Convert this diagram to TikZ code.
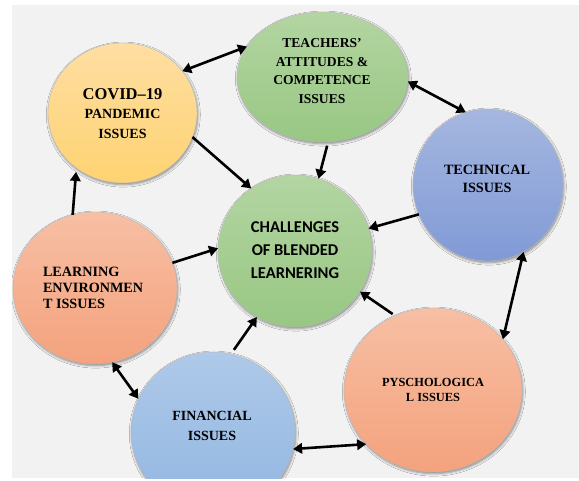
\documentclass[tikz,border=0pt]{standalone}
\usepackage{fontspec}
\setmainfont{Liberation Serif}
\newfontfamily\calibri{Carlito}
\usetikzlibrary{shapes.geometric,arrows.meta,shadows.blur}

\definecolor{panelgrey}{HTML}{F2F2F2}
\definecolor{goldtop}{HTML}{FEDEA2}
\definecolor{goldbot}{HTML}{FED372}
\definecolor{greentop}{HTML}{B3D5A2}
\definecolor{greenbot}{HTML}{98C783}
\definecolor{bluetop}{HTML}{A5B7E0}
\definecolor{bluebot}{HTML}{819AD6}
\definecolor{skytop}{HTML}{AEC9E9}
\definecolor{skybot}{HTML}{92B6E1}
\definecolor{salmontop}{HTML}{F7BFA4}
\definecolor{salmonbot}{HTML}{F4A27D}

\tikzset{
  bubble/.style={ellipse, inner sep=0pt, outer sep=0pt,
    draw=gray!55, line width=0.4pt,
    blur shadow={shadow xshift=0.8pt, shadow yshift=-1.6pt,
      shadow blur radius=2.5pt, shadow opacity=45}},
  gold/.style={top color=goldtop, bottom color=goldbot},
  leaf/.style={top color=greentop, bottom color=greenbot},
  steel/.style={top color=bluetop, bottom color=bluebot},
  sky/.style={top color=skytop, bottom color=skybot},
  salmon/.style={top color=salmontop, bottom color=salmonbot},
  caption/.style={inner sep=0pt, outer sep=0pt, align=center, font=\bfseries},
  tip/.tip={Triangle[length=9pt,width=10.5pt]},
  oneway/.style={line width=2.6pt, -tip},
  twoway/.style={line width=2.6pt, tip-tip},
}

\begin{document}
\begin{tikzpicture}[x=1pt,y=-1pt]
  \useasboundingbox (0,0) rectangle (579,481);
  \fill[panelgrey] (12,5) rectangle (579,478);

  \begin{scope}
    \clip (12,5) rectangle (579,478);
    % the seven bubbles
    \node[bubble, gold,   minimum width=149pt, minimum height=140pt] (covid)  at (122.5,113) {};
    \node[bubble, leaf,   minimum width=171pt, minimum height=130pt] (teach)  at (322.5,77)  {};
    \node[bubble, steel,  minimum width=150pt, minimum height=152pt] (tech)   at (488,185)   {};
    \node[bubble, leaf,   minimum width=154pt, minimum height=152pt] (hub)    at (295,251)   {};
    \node[bubble, salmon, minimum width=164pt, minimum height=152pt] (learn)  at (95,288)    {};
    \node[bubble, sky,    minimum width=164pt, minimum height=160pt] (fin)    at (213,432)   {};
    \node[bubble, salmon, minimum width=178pt, minimum height=164pt] (psych)  at (433,390)   {};
  \end{scope}

  % captions
  \node[caption, font=\bfseries\fontsize{14}{19.5}\selectfont] (covidtext) at (122.5,113.5)
    {{\fontsize{16.5}{19.5}\selectfont COVID–19}\\PANDEMIC\\ISSUES};
  \node[caption, font=\bfseries\fontsize{13.6}{18.7}\selectfont] (teachtext) at (322,71)
    {TEACHERS’\\ATTITUDES \&\\COMPETENCE\\ISSUES};
  \node[caption, font=\bfseries\fontsize{14.2}{18}\selectfont] (techtext) at (487,179)
    {TECHNICAL\\ISSUES};
  \node[caption, font=\calibri\bfseries\fontsize{16.5}{23}\selectfont] (hubtext) at (295,250)
    {CHALLENGES\\OF BLENDED\\LEARNERING};
  \node[caption, align=left, anchor=west, font=\bfseries\fontsize{14.2}{16}\selectfont] (learntext) at (43,288)
    {LEARNING\\ENVIRONMEN\\T ISSUES};
  \node[caption, font=\bfseries\fontsize{14}{20}\selectfont] (fintext) at (212,426)
    {FINANCIAL\\ISSUES};
  \node[caption, font=\bfseries\fontsize{12.4}{14.5}\selectfont] (psychtext) at (433,390)
    {PYSCHOLOGICA\\L ISSUES};

  % links between the outer bubbles
  \draw[twoway] (covid.35) -- (teach.158);
  \draw[twoway] (teach.-3) -- (tech.107);
  \draw[twoway] (tech.-62) -- (psych.36);
  \draw[twoway] (fin.-12) -- (psych.219);
  \draw[twoway] (learn.-77) -- (fin.156);
  \draw[oneway, shorten >=4pt] (learn.107) -- (covid.230);

  % links into the central bubble
  \draw[oneway] (covid.-19) -- (hub.125);
  \draw[oneway, shorten <=4pt] (teach.-85) -- (hub.72);
  \draw[oneway] (tech.203) -- (hub.17);
  \draw[oneway] (learn.18) -- (hub.178);
  \draw[oneway, shorten <=5pt] (fin.77) -- (hub.-120);
  \draw[oneway, shorten <=3pt] (psych.117) -- (hub.-32);
\end{tikzpicture}
\end{document}
